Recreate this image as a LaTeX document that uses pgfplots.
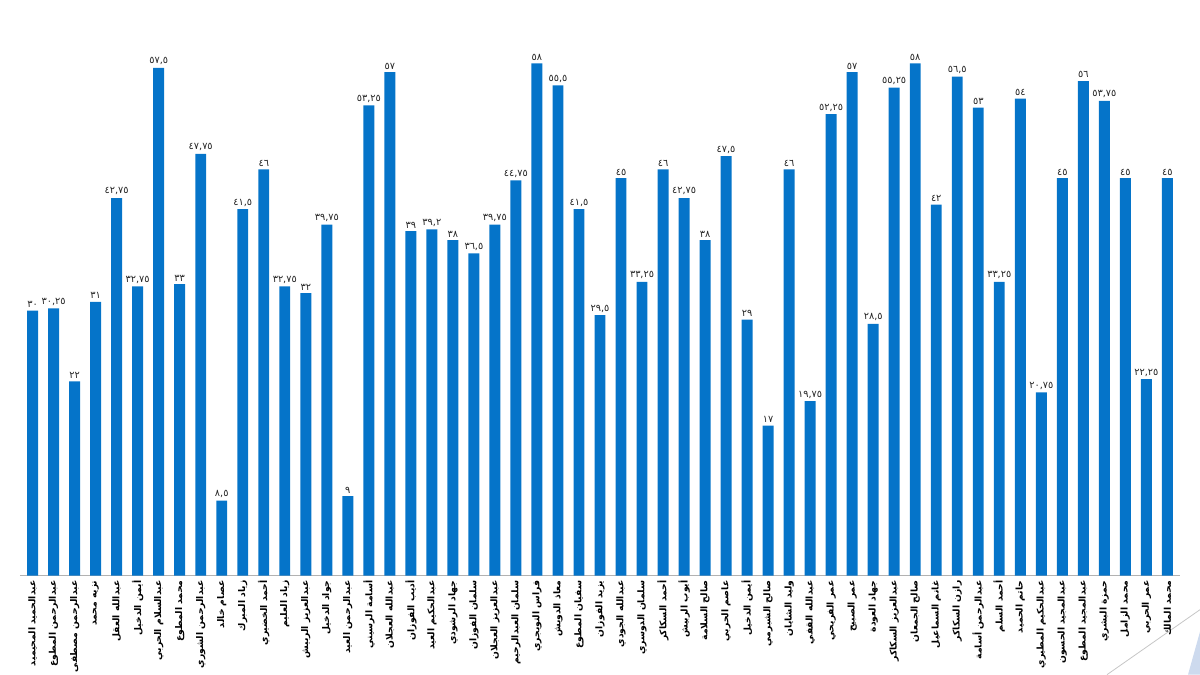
\documentclass[border=0pt]{standalone}
\usepackage{fontspec}
\usepackage{pgfplots}
\pgfplotsset{compat=1.18}
\TeXXeTstate=1
\newfontfamily\arabicfont[Script=Arabic]{DejaVu Sans}
\definecolor{barblue}{RGB}{5,116,201}
\definecolor{gridgray}{RGB}{235,235,235}
\definecolor{deco}{RGB}{205,218,238}

\begin{document}
\begin{tikzpicture}
\path[use as bounding box] (-15pt,-74.25pt) rectangle (885pt,431.75pt);
% corner decoration of the slide
\draw[gray!45, line width=0.6pt] (815.25pt,-74.25pt) -- (885pt,-25.5pt);
\fill[deco] (876pt,-74.25pt) -- (885pt,-42pt) -- (885pt,-74.25pt) -- cycle;
\begin{axis}[
  at={(0,0)}, anchor=south west,
  scale only axis,
  width=870pt, height=397.5pt,
  xmin=-0.6, xmax=54.6,
  ymin=0, ymax=60,
  ytick={0,10,...,60}, yticklabels={},
  ymajorgrids, grid style={gridgray, line width=0.6pt},
  axis y line=none,
  axis x line*=bottom,
  x axis line style={draw=black!30, line width=0.8pt, -},
  major tick length=0pt,
  xtick=data,
  xticklabels={
    \beginR عبدالحميد المحيميد\endR,\beginR عبدالرحمن المطوع\endR,\beginR عبدالرحمن مصطفى\endR,\beginR نزيه محمد\endR,
    \beginR عبدالله العقل\endR,\beginR أيمن الدخيل\endR,\beginR عبدالسلام الحربي\endR,\beginR محمد المطوع\endR,
    \beginR عبدالرحمن الشوري\endR,\beginR عصام خالد\endR,\beginR زياد المبرك\endR,\beginR أحمد الخضيري\endR,
    \beginR زياد العليم\endR,\beginR عبدالعزيز الربيش\endR,\beginR جواد الدخيل\endR,\beginR عبدالرحمن العيد\endR,
    \beginR أسامة الرسيني\endR,\beginR عبدالله العجلان\endR,\beginR أديب الفوزان\endR,\beginR عبدالحكيم العيد\endR,
    \beginR جهاد الرشودي\endR,\beginR سلمان الفوزان\endR,\beginR عبدالعزيز العجلان\endR,\beginR سلمان العبدالرحيم\endR,
    \beginR فراس التويجري\endR,\beginR معاذ الدويش\endR,\beginR سفيان المطوع\endR,\beginR يزيد الفوزان\endR,
    \beginR عبدالله الجودي\endR,\beginR سلمان الدوسري\endR,\beginR أحمد السكاكر\endR,\beginR أيوب الربيش\endR,
    \beginR صالح السلامة\endR,\beginR عاصم الحربي\endR,\beginR أيمن الدخيل\endR,\beginR صالح الشبرمي\endR,
    \beginR وليد الشايان\endR,\beginR عبدالله القفي\endR,\beginR عمر الفريحي\endR,\beginR عمر الصبيح\endR,
    \beginR جهاد العودة\endR,\beginR عبدالعزيز السكاكر\endR,\beginR صالح الجمعان\endR,\beginR غانم السماعيل\endR,
    \beginR رازن السكاكر\endR,\beginR عبدالرحمن أسامة\endR,\beginR أحمد السلم\endR,\beginR حاتم الحميد\endR,
    \beginR عبدالحكيم المطيري\endR,\beginR عبدالمجيد الحسون\endR,\beginR عبدالمجيد المطوع\endR,\beginR حمزة البشري\endR,
    \beginR محمد الزامل\endR,\beginR عمر الحربي\endR,\beginR محمد المالك\endR},
  xticklabel style={font=\arabicfont\bfseries\fontsize{6.9}{8}\selectfont, rotate=90, anchor=east, inner xsep=3.5pt, inner ysep=0pt, text=black},
  nodes near coords,
  point meta=explicit symbolic,
  every node near coord/.append style={font=\arabicfont\fontsize{7.3}{8}\selectfont, text=black!85, inner sep=2pt},
]
\addplot[ybar, bar width=0.52, fill=barblue, draw=none] coordinates {
  (0,30) [{٣٠}] (1,30.25) [{٣٠,٢٥}] (2,22) [{٢٢}] (3,31) [{٣١}]
  (4,42.75) [{٤٢,٧٥}] (5,32.75) [{٣٢,٧٥}] (6,57.5) [{٥٧,٥}] (7,33) [{٣٣}]
  (8,47.75) [{٤٧,٧٥}] (9,8.5) [{٨,٥}] (10,41.5) [{٤١,٥}] (11,46) [{٤٦}]
  (12,32.75) [{٣٢,٧٥}] (13,32) [{٣٢}] (14,39.75) [{٣٩,٧٥}] (15,9) [{٩}]
  (16,53.25) [{٥٣,٢٥}] (17,57) [{٥٧}] (18,39) [{٣٩}] (19,39.2) [{٣٩,٢}]
  (20,38) [{٣٨}] (21,36.5) [{٣٦,٥}] (22,39.75) [{٣٩,٧٥}] (23,44.75) [{٤٤,٧٥}]
  (24,58) [{٥٨}] (25,55.5) [{٥٥,٥}] (26,41.5) [{٤١,٥}] (27,29.5) [{٢٩,٥}]
  (28,45) [{٤٥}] (29,33.25) [{٣٣,٢٥}] (30,46) [{٤٦}] (31,42.75) [{٤٢,٧٥}]
  (32,38) [{٣٨}] (33,47.5) [{٤٧,٥}] (34,29) [{٢٩}] (35,17) [{١٧}]
  (36,46) [{٤٦}] (37,19.75) [{١٩,٧٥}] (38,52.25) [{٥٢,٢٥}] (39,57) [{٥٧}]
  (40,28.5) [{٢٨,٥}] (41,55.25) [{٥٥,٢٥}] (42,58) [{٥٨}] (43,42) [{٤٢}]
  (44,56.5) [{٥٦,٥}] (45,53) [{٥٣}] (46,33.25) [{٣٣,٢٥}] (47,54) [{٥٤}]
  (48,20.75) [{٢٠,٧٥}] (49,45) [{٤٥}] (50,56) [{٥٦}] (51,53.75) [{٥٣,٧٥}]
  (52,45) [{٤٥}] (53,22.25) [{٢٢,٢٥}] (54,45) [{٤٥}]
};
\end{axis}
\end{tikzpicture}
\end{document}
